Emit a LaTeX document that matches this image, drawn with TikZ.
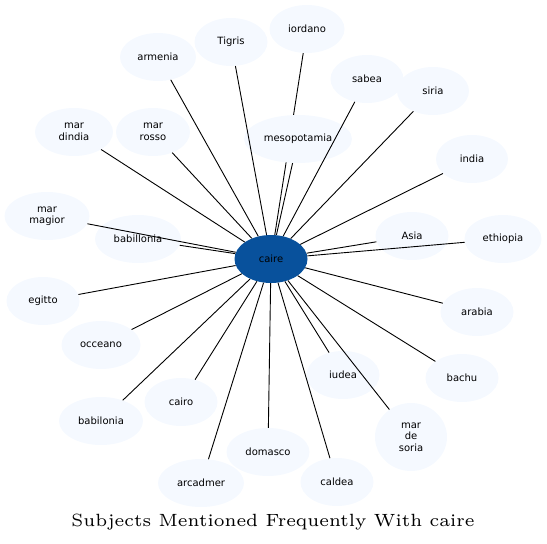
\documentclass[tikz,border=0pt]{standalone}
\usepackage{fontspec}
\usetikzlibrary{shapes.geometric}
\newfontfamily\nodefont{DejaVu Sans}
\definecolor{hub}{RGB}{8,81,156}
\definecolor{leaf}{RGB}{245,249,255}
\tikzset{
  base/.style={ellipse, inner sep=0pt, minimum height=48pt, align=center,
    font=\nodefont\fontsize{10}{11.5}\selectfont, text=black},
  leafnode/.style={base, fill=leaf},
  hubnode/.style={base, fill=hub},
  edge/.style={draw=black, line width=0.9pt}
}
\begin{document}
\begin{tikzpicture}[x=1pt,y=-1pt]
\useasboundingbox (0,0) rectangle (547,544);
\node[hubnode, minimum width=73pt] (caire) at (271,259) {caire};
\node[leafnode, minimum width=75pt] (iordano) at (307,29) {iordano};
\draw[edge] (caire) -- (iordano);
\node[leafnode, minimum width=73pt] (tigris) at (231,42) {Tigris};
\node[leafnode, minimum width=76pt] (armenia) at (158,57) {armenia};
\node[leafnode, minimum width=73pt] (sabea) at (367,79) {sabea};
\node[leafnode, minimum width=72pt] (siria) at (433,91) {siria};
\node[leafnode, minimum width=108pt] (meso) at (298,139) {mesopotamia};
\node[leafnode, minimum width=78pt] (dindia) at (74,132) {mar\\dindia};
\node[leafnode, minimum width=74pt] (rosso) at (153,132) {mar\\rosso};
\node[leafnode, minimum width=72pt] (india) at (472,159) {india};
\node[leafnode, minimum width=85pt] (magior) at (47,216) {mar\\magior};
\node[leafnode, minimum width=86pt] (babillonia) at (138,239) {babillonia};
\node[leafnode, minimum width=73pt] (asia) at (412,236) {Asia};
\node[leafnode, minimum width=77pt] (ethiopia) at (503,239) {ethiopia};
\node[leafnode, minimum width=73pt] (egitto) at (43,301) {egitto};
\node[leafnode, minimum width=73pt] (arabia) at (477,312) {arabia};
\node[leafnode, minimum width=79pt] (occeano) at (101,345) {occeano};
\node[leafnode, minimum width=73pt] (iudea) at (343,375) {iudea};
\node[leafnode, minimum width=73pt] (bachu) at (462,378) {bachu};
\node[leafnode, minimum width=73pt] (cairo) at (181,402) {cairo};
\node[leafnode, minimum width=84pt] (babilonia) at (101,421) {babilonia};
\node[leafnode, minimum width=72pt, minimum height=68pt] (soria) at (411,437) {mar\\de\\soria};
\node[leafnode, minimum width=83pt] (domasco) at (268,452) {domasco};
\node[leafnode, minimum width=86pt] (arcadmer) at (201,483) {arcadmer};
\node[leafnode, minimum width=73pt] (caldea) at (337,482) {caldea};
\foreach \n in {tigris,armenia,sabea,siria,meso,dindia,rosso,india,magior,babillonia,asia,ethiopia,egitto,arabia,occeano,iudea,bachu,cairo,babilonia,soria,domasco,arcadmer,caldea}
  \draw[edge] (caire) -- (\n);
\node[inner sep=0pt] (title) at (273,522) {\fontsize{6}{7}\selectfont\resizebox{403pt}{!}{Subjects Mentioned Frequently With caire}};
\end{tikzpicture}
\end{document}
